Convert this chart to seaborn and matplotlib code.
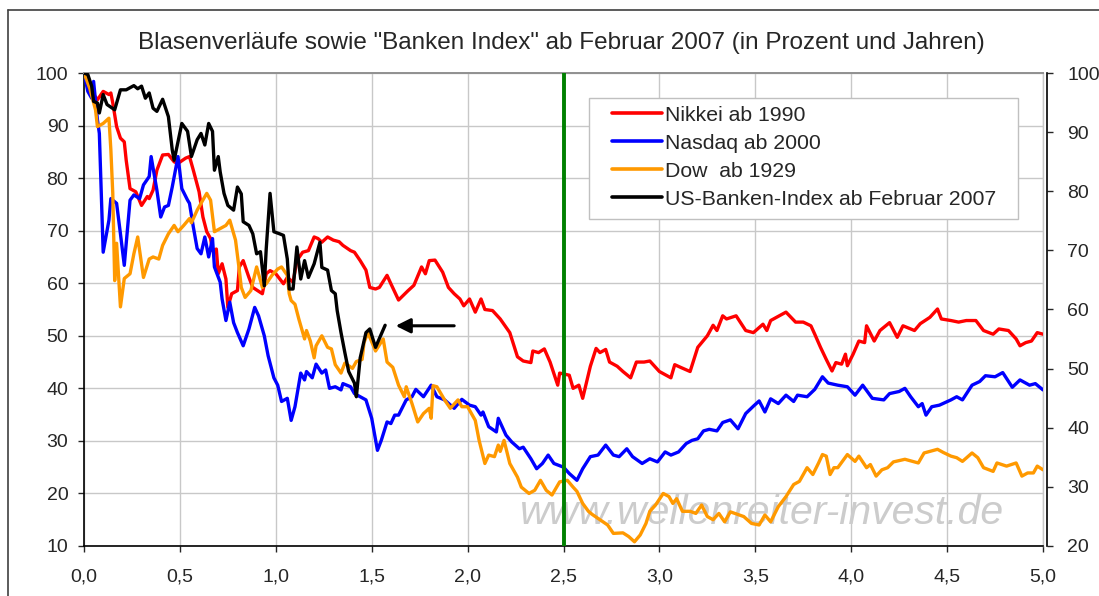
import numpy as np
import pandas as pd
import matplotlib
matplotlib.use('Agg')
import matplotlib.pyplot as plt
import seaborn as sns
from matplotlib.ticker import FuncFormatter, MultipleLocator
from matplotlib.patches import Rectangle
from matplotlib.lines import Line2D

# Nikkei ab 1990 (rot)
nikkei_x = [0.0, 0.03, 0.07, 0.10, 0.13, 0.14, 0.15, 0.17, 0.19, 0.21, 0.22, 0.24, 0.27, 0.30, 0.33, 0.34,
            0.36, 0.38, 0.41, 0.44, 0.47, 0.49, 0.53, 0.55, 0.57, 0.60, 0.62, 0.64, 0.66, 0.67, 0.69, 0.70,
            0.72, 0.74, 0.75, 0.77, 0.80, 0.81, 0.83, 0.86, 0.88, 0.93, 0.95, 0.97, 1.00, 1.04, 1.06, 1.09,
            1.11, 1.14, 1.17, 1.20, 1.22, 1.24, 1.27, 1.30, 1.33, 1.35, 1.39, 1.41, 1.44, 1.47, 1.49, 1.52,
            1.54, 1.58, 1.60, 1.64, 1.69, 1.72, 1.76, 1.78, 1.80, 1.83, 1.87, 1.90, 1.93, 1.96, 1.98, 2.01,
            2.04, 2.07, 2.09, 2.13, 2.17, 2.22, 2.26, 2.29, 2.33, 2.34, 2.37, 2.40, 2.43, 2.47, 2.48, 2.53,
            2.55, 2.58, 2.60, 2.64, 2.67, 2.69, 2.72, 2.74, 2.78, 2.81, 2.85, 2.88, 2.92, 2.95, 3.00, 3.06,
            3.08, 3.11, 3.16, 3.20, 3.25, 3.28, 3.30, 3.33, 3.35, 3.40, 3.45, 3.49, 3.54, 3.56, 3.58, 3.61,
            3.66, 3.71, 3.75, 3.79, 3.81, 3.84, 3.87, 3.90, 3.92, 3.95, 3.97, 3.98, 4.01, 4.04, 4.07, 4.08,
            4.12, 4.15, 4.20, 4.24, 4.27, 4.33, 4.36, 4.41, 4.45, 4.47, 4.52, 4.56, 4.60, 4.65, 4.69, 4.74,
            4.77, 4.82, 4.86, 4.88, 4.91, 4.94, 4.97, 5.00]
nikkei_y = [100, 97, 94.9, 96.5, 95.9, 96.2, 94.3, 89.8, 87.6, 86.9, 83.4, 78, 77.4, 74.8, 76.5, 76.1,
            77.7, 81.5, 84.4, 84.5, 83.1, 82.8, 83.8, 84.1, 81.5, 77.4, 72.6, 69.8, 68.5, 66.2, 66.5, 61.8,
            63.7, 60.8, 55.4, 58, 58.6, 63.1, 64.3, 61.1, 59.2, 58, 61.8, 62.4, 61.8, 59.9, 61.1, 60.2,
            64.3, 65.9, 66.2, 68.8, 68.5, 67.8, 68.8, 68.2, 67.9, 67.2, 66.2, 65.9, 64.3, 62.5, 59.2, 58.9,
            59.2, 61.5, 59.9, 56.8, 58.6, 59.6, 63.1, 61.8, 64.3, 64.4, 62.1, 59.2, 58, 57, 55.7, 57,
            54.5, 57, 55, 54.8, 53.2, 50.6, 46, 45.2, 44.9, 47.1, 46.8, 47.5, 45, 40.6, 42.9, 42.5,
            40, 40.6, 38.1, 44.2, 47.6, 46.8, 47.4, 45, 44.2, 43.2, 42, 45, 45, 45.2, 43.2, 42,
            44.5, 44, 43.2, 47.8, 50, 52, 51, 53.8, 53.2, 53.8, 51, 50.6, 52.2, 51, 52.9, 53.5,
            54.5, 52.6, 52.6, 51.9, 50.3, 47.8, 45.5, 43.3, 44.9, 44.6, 46.5, 44.3, 46.5, 49, 48.7, 51.9,
            49, 51, 52.5, 49.7, 51.9, 51, 52.3, 53.5, 55.1, 53.2, 52.9, 52.6, 52.9, 52.9, 51, 50.3,
            51.3, 51, 49.4, 48.1, 48.7, 49, 50.6, 50.3]

# Nasdaq ab 2000 (blau)
nasdaq_x = [0.0, 0.02, 0.04, 0.05, 0.07, 0.08, 0.10, 0.13, 0.14, 0.17, 0.19, 0.21, 0.24, 0.26, 0.29, 0.31,
            0.34, 0.35, 0.38, 0.40, 0.42, 0.44, 0.46, 0.49, 0.51, 0.54, 0.55, 0.57, 0.59, 0.61, 0.63, 0.65,
            0.67, 0.68, 0.71, 0.72, 0.74, 0.76, 0.78, 0.80, 0.83, 0.86, 0.89, 0.91, 0.94, 0.96, 0.99, 1.01,
            1.03, 1.06, 1.08, 1.10, 1.13, 1.15, 1.16, 1.19, 1.21, 1.24, 1.26, 1.28, 1.31, 1.34, 1.35, 1.39,
            1.41, 1.44, 1.47, 1.50, 1.53, 1.55, 1.58, 1.60, 1.62, 1.64, 1.68, 1.71, 1.73, 1.77, 1.81, 1.84,
            1.88, 1.93, 1.97, 2.01, 2.04, 2.07, 2.08, 2.11, 2.15, 2.16, 2.20, 2.23, 2.27, 2.29, 2.33, 2.36,
            2.39, 2.42, 2.45, 2.50, 2.53, 2.57, 2.60, 2.64, 2.68, 2.72, 2.76, 2.79, 2.83, 2.86, 2.91, 2.95,
            2.99, 3.03, 3.06, 3.10, 3.14, 3.17, 3.20, 3.23, 3.26, 3.30, 3.33, 3.37, 3.41, 3.45, 3.49, 3.52,
            3.55, 3.58, 3.62, 3.66, 3.70, 3.72, 3.77, 3.81, 3.85, 3.88, 3.93, 3.98, 4.02, 4.06, 4.11, 4.17,
            4.20, 4.25, 4.28, 4.31, 4.35, 4.37, 4.39, 4.42, 4.46, 4.52, 4.55, 4.58, 4.63, 4.67, 4.70, 4.75,
            4.79, 4.84, 4.88, 4.93, 4.96, 5.00]
nasdaq_y = [100, 96.5, 95.2, 98.4, 91.1, 88.5, 65.9, 72, 76.1, 75.2, 69.4, 63.4, 75.8, 76.8, 76.1, 78.7,
            80.3, 84.1, 77.7, 72.6, 74.5, 74.8, 78.3, 84.1, 78, 75.8, 75.2, 70.7, 66.6, 65.6, 68.8, 65,
            68.5, 63.1, 60.2, 57, 52.9, 56.4, 52.5, 50.6, 48.1, 51.3, 55.4, 53.8, 50, 46.2, 42, 40.6,
            37.5, 38.1, 33.9, 36.5, 42.9, 41.6, 43.2, 42, 44.6, 42.9, 43.5, 40, 40.3, 39.7, 40.9, 40.3,
            39, 38.4, 37.8, 34.3, 28.2, 30.1, 33.6, 33.3, 34.9, 34.9, 37.8, 38.4, 39.8, 38.4, 40.6, 38.4,
            37.8, 36.2, 37.9, 36.8, 36.5, 34.9, 35.5, 32.7, 31.7, 34.3, 31.1, 29.8, 28.5, 28.8, 26.6, 24.7,
            25.7, 27.3, 25.7, 25, 23.8, 22.5, 24.7, 27, 27.3, 29.2, 27.3, 27, 28.5, 27, 25.7, 26.6,
            26, 27.9, 27.3, 27.9, 29.5, 30.1, 30.4, 31.9, 32.2, 31.9, 33.5, 34, 32.3, 35.2, 36.6, 37.6,
            35.5, 38, 37.1, 38.7, 37.5, 38.7, 38.4, 39.8, 42.2, 41, 40.6, 40.3, 38.7, 40.6, 38.1, 37.8,
            39, 39.4, 40, 38.4, 36.5, 37.1, 34.9, 36.5, 36.8, 37.8, 38.4, 37.8, 40.6, 41.3, 42.4, 42.2,
            43, 40.2, 41.6, 40.6, 40.9, 39.7]

# Dow ab 1929 (orange)
dow_x = [0.0, 0.03, 0.06, 0.07, 0.10, 0.13, 0.14, 0.15, 0.16, 0.17, 0.19, 0.21, 0.24, 0.26, 0.28, 0.31,
         0.34, 0.36, 0.39, 0.41, 0.44, 0.47, 0.49, 0.52, 0.55, 0.56, 0.59, 0.61, 0.64, 0.66, 0.68, 0.71,
         0.74, 0.76, 0.79, 0.81, 0.82, 0.84, 0.87, 0.90, 0.93, 0.95, 0.98, 1.01, 1.03, 1.06, 1.07, 1.08,
         1.10, 1.12, 1.15, 1.16, 1.18, 1.20, 1.21, 1.24, 1.27, 1.29, 1.31, 1.34, 1.36, 1.40, 1.42, 1.45,
         1.46, 1.48, 1.52, 1.56, 1.58, 1.61, 1.64, 1.67, 1.68, 1.71, 1.74, 1.77, 1.80, 1.81, 1.82, 1.84,
         1.88, 1.91, 1.95, 1.97, 2.00, 2.04, 2.06, 2.09, 2.11, 2.14, 2.16, 2.17, 2.19, 2.22, 2.26, 2.28,
         2.32, 2.35, 2.38, 2.41, 2.44, 2.48, 2.52, 2.55, 2.57, 2.60, 2.63, 2.65, 2.69, 2.73, 2.76, 2.81,
         2.84, 2.87, 2.90, 2.93, 2.95, 2.98, 3.02, 3.05, 3.07, 3.09, 3.12, 3.16, 3.19, 3.22, 3.25, 3.28,
         3.31, 3.34, 3.37, 3.44, 3.48, 3.52, 3.55, 3.58, 3.62, 3.66, 3.70, 3.73, 3.77, 3.80, 3.83, 3.85,
         3.87, 3.89, 3.91, 3.93, 3.98, 4.02, 4.04, 4.08, 4.10, 4.13, 4.16, 4.19, 4.22, 4.28, 4.35, 4.38,
         4.45, 4.48, 4.52, 4.55, 4.58, 4.63, 4.66, 4.69, 4.74, 4.76, 4.81, 4.86, 4.89, 4.92, 4.95, 4.97,
         5.00]
dow_y = [100, 97.1, 93, 89.8, 90.4, 91.4, 85.4, 77.1, 60.5, 67.6, 55.5, 60.9, 61.8, 65.6, 68.8, 61.1,
         64.6, 65, 64.6, 67.2, 69.4, 71, 69.8, 71, 72.3, 71.5, 73.9, 75.2, 77.1, 75.8, 69.8, 70.4,
         71, 72, 68.2, 62.4, 59.2, 57.3, 58.6, 63.1, 59.2, 59.9, 61.5, 62.7, 63.1, 61.5, 58, 56.7,
         56, 53.2, 49.4, 51, 49, 45.8, 48.1, 50, 47.8, 47.5, 44.5, 42.9, 44.8, 43.8, 45.1, 45.5,
         48.7, 50.6, 47.1, 49.4, 45, 44, 40.6, 38.4, 40.3, 37.1, 33.6, 35.2, 36.2, 34.3, 40.5, 40.3,
         37.8, 36.2, 37.8, 36.5, 36.5, 33.9, 30.1, 25.7, 27.3, 27, 29.2, 28, 30.1, 25.7, 23.1, 21.2,
         20, 20.6, 22.5, 20.6, 19.7, 22.2, 22.5, 21.2, 20.4, 18.1, 16.6, 16, 15, 14, 12.4, 12.5,
         11.8, 10.8, 12.1, 14.3, 16.6, 17.8, 20, 19.4, 18.1, 19, 16.6, 16.6, 16.2, 17.8, 15.6, 15,
         16.2, 14.6, 16.5, 15.6, 14.3, 14, 15.9, 14.6, 17.5, 19.4, 21.7, 22.3, 24.9, 23.6, 25.8, 27.4,
         27.1, 23.6, 24.9, 24.9, 27.4, 26.1, 27.1, 24.9, 25.5, 23.3, 24.5, 24.9, 26, 26.5, 25.8, 27.7,
         28.4, 27.8, 27.1, 26.8, 26.1, 27.7, 26.8, 24.9, 24.2, 25.8, 25.2, 25.8, 23.3, 23.9, 23.9, 25.2,
         24.5]

# US-Banken-Index ab Februar 2007 (schwarz)
banken_x = [0.0, 0.02, 0.04, 0.05, 0.07, 0.08, 0.10, 0.12, 0.16, 0.19, 0.22, 0.26, 0.28, 0.30, 0.32, 0.34,
            0.36, 0.38, 0.41, 0.44, 0.46, 0.47, 0.51, 0.54, 0.56, 0.59, 0.61, 0.63, 0.65, 0.67, 0.68, 0.70,
            0.71, 0.73, 0.75, 0.78, 0.80, 0.82, 0.83, 0.86, 0.88, 0.90, 0.92, 0.94, 0.95, 0.97, 0.99, 1.02,
            1.04, 1.06, 1.07, 1.09, 1.11, 1.13, 1.15, 1.17, 1.20, 1.23, 1.24, 1.27, 1.29, 1.31, 1.32, 1.34,
            1.36, 1.38, 1.41, 1.42, 1.44, 1.47, 1.49, 1.52, 1.57]
banken_y = [100, 99.7, 97.5, 94.6, 94.3, 92.4, 95.9, 94, 93, 96.8, 96.8, 97.6, 97, 97.5, 95.2, 96.2,
            93.3, 92.7, 95, 91.7, 85.4, 83.4, 90.4, 88.9, 84.1, 87.3, 88.5, 86.3, 90.4, 88.9, 81.5, 84.1,
            81.2, 77.1, 74.8, 73.9, 78.3, 77, 71.7, 71, 69.4, 65.6, 66, 59.5, 66.5, 77.1, 69.8, 69.4,
            69.1, 64.6, 58.9, 58.9, 66.9, 60.8, 64.3, 61.1, 63.7, 67.8, 63, 62.5, 58.6, 58, 54.8, 50.6,
            46.8, 43.2, 41, 38.4, 45.8, 50.6, 51.3, 47.8, 52]

serien = ['Nikkei ab 1990', 'Nasdaq ab 2000', 'Dow  ab 1929', 'US-Banken-Index ab Februar 2007']
farben = ['#ff0000', '#0000ff', '#ff9900', '#000000']

# Pfeil auf das Ende der Banken-Kurve, gruene Linie bei 2,5 Jahren
pfeil_von = (1.93, 51.9)
pfeil_nach = (1.625, 51.9)
markierung = 2.5

df = pd.concat([
    pd.DataFrame({'Jahr': nikkei_x, 'Wert': nikkei_y, 'Serie': serien[0]}),
    pd.DataFrame({'Jahr': nasdaq_x, 'Wert': nasdaq_y, 'Serie': serien[1]}),
    pd.DataFrame({'Jahr': dow_x, 'Wert': dow_y, 'Serie': serien[2]}),
    pd.DataFrame({'Jahr': banken_x, 'Wert': banken_y, 'Serie': serien[3]}),
], ignore_index=True)

sns.set_style('white')
plt.rcParams['font.family'] = ['Liberation Sans', 'DejaVu Sans']

fig = plt.figure(figsize=(10.99, 5.96), dpi=100)
ax = fig.add_axes([84 / 1099, 50 / 596, 959 / 1099, 473 / 596])

sns.lineplot(data=df, x='Jahr', y='Wert', hue='Serie', hue_order=serien,
             palette=dict(zip(serien, farben)), estimator=None, sort=False,
             linewidth=2.4, ax=ax, zorder=3)

ax.axvline(markierung, color='#008000', lw=2.8, zorder=3.5)

ax.annotate('', xy=pfeil_nach, xytext=pfeil_von,
            arrowprops=dict(arrowstyle='-|>', color='black', lw=2.2, mutation_scale=22,
                            shrinkA=0, shrinkB=0), zorder=4)

ax.set_xlim(0, 5)
ax.set_ylim(10, 100)
ax.xaxis.set_major_locator(MultipleLocator(0.5))
ax.yaxis.set_major_locator(MultipleLocator(10))
ax.xaxis.set_major_formatter(FuncFormatter(lambda v, p: f'{v:.1f}'.replace('.', ',')))
ax.grid(True, color='#c8c8c8', lw=1)
ax.set_axisbelow(True)
ax.set_xlabel('')
ax.set_ylabel('')

for s in ['left', 'bottom']:
    ax.spines[s].set_color('black')
    ax.spines[s].set_linewidth(1.2)
ax.spines['top'].set_color('#909090')
ax.spines['top'].set_linewidth(1.4)
ax.spines['right'].set_color('#c8c8c8')
ax.spines['right'].set_linewidth(1)

ax.tick_params(axis='y', direction='out', length=4.3, width=1, labelsize=14, pad=7, left=True)
ax.tick_params(axis='x', direction='out', length=4.3, width=1, labelsize=14, pad=12, bottom=True)

ax2 = ax.twinx()
ax2.set_ylim(20, 100)
ax2.yaxis.set_major_locator(MultipleLocator(10))
ax2.spines['right'].set_position(('outward', 3))
ax2.spines['right'].set_color('black')
ax2.spines['right'].set_linewidth(1.2)
for s in ['left', 'top', 'bottom']:
    ax2.spines[s].set_visible(False)
ax2.tick_params(axis='y', direction='out', length=4.3, width=1, labelsize=14, pad=10, right=True)
ax2.grid(False)

# Legende mit eigenem Rahmen
ax2.add_patch(Rectangle((505 / 959, 327 / 473), 429 / 959, 121.3 / 473, transform=ax.transAxes,
                        facecolor='white', edgecolor='#c0c0c0', lw=1, zorder=5))
handles, labels = ax.get_legend_handles_labels()
ax.get_legend().remove()
leg = ax2.legend(handles, labels, loc='upper left', bbox_to_anchor=(528 / 959, 440.2 / 473),
                 frameon=False, fontsize=15.3, handlelength=2.35, handletextpad=0.15,
                 labelspacing=0.42, borderpad=0, borderaxespad=0)
leg.set_zorder(6)
for ln in leg.get_lines():
    ln.set_linewidth(2.6)

# Wasserzeichen
ax.text(0.455, 0.047, 'www.wellenreiter-invest.de', transform=ax.transAxes, fontsize=29.5,
        style='italic', color='#cccccc', ha='left', va='baseline', zorder=2)

fig.text(0.511, 0.928, 'Blasenverläufe sowie "Banken Index" ab Februar 2007 (in Prozent und Jahren)',
         ha='center', va='center', fontsize=17.5)

# Rahmen des Diagrammbereichs (links und oben sichtbar)
fig.add_artist(Line2D([8 / 1099, 8 / 1099], [0, 1 - 10 / 596], color='#404040', lw=1.2))
fig.add_artist(Line2D([8 / 1099, 1], [1 - 10 / 596, 1 - 10 / 596], color='#404040', lw=1.2))

fig.savefig('out.png', dpi=100)
